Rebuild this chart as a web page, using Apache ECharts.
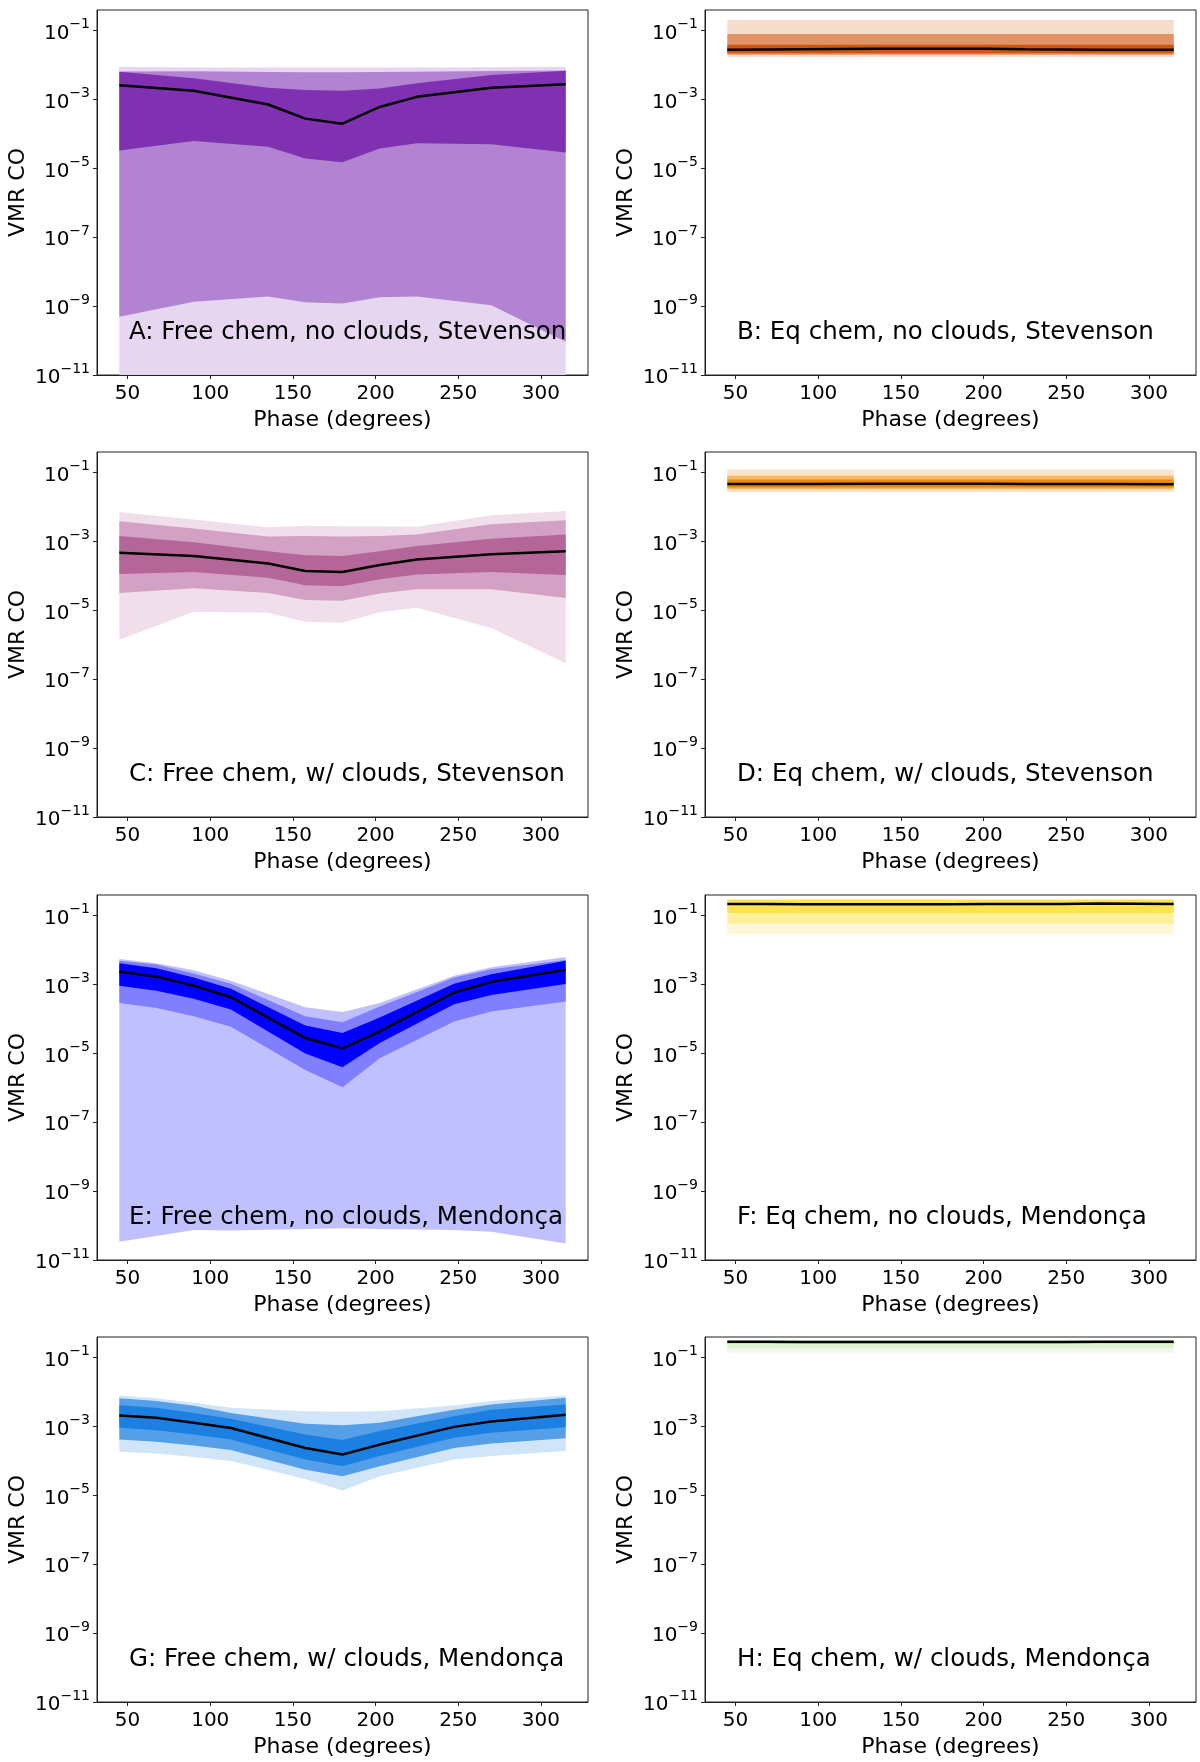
<!DOCTYPE html>
<html><head><meta charset="utf-8">
<script src="https://cdn.jsdelivr.net/npm/echarts@6/dist/echarts.min.js"></script>
<style>html,body{margin:0;padding:0;background:#fff}#c{width:1200px;height:1762px}</style>
</head><body><div id="c"></div>
<script>
// ---------- tick values ----------
const xTicks = [50, 100, 150, 200, 250, 300];
const yTicks = [1e-11, 1e-9, 1e-7, 1e-5, 1e-3, 1e-1];

// ---------- phases ----------
const phaseS = [45, 90, 135, 157.5, 180, 202.5, 225, 270, 315];
const phaseM = [45, 67.5, 90, 112.5, 157.5, 180, 202.5, 247.5, 270, 315];

// ---------- A: Free chem, no clouds, Stevenson ----------
const A_med = [2.6e-3, 1.8e-3, 7.2e-4, 2.8e-4, 2.0e-4, 6.1e-4, 1.2e-3, 2.2e-3, 2.8e-3];
const A_lo1 = [3.3e-5, 6.3e-5, 4.3e-5, 1.95e-5, 1.5e-5, 3.8e-5, 5.4e-5, 5.0e-5, 2.9e-5];
const A_hi1 = [6.4e-3, 4.2e-3, 2.2e-3, 1.9e-3, 1.8e-3, 2.1e-3, 3.0e-3, 5.2e-3, 6.9e-3];
const A_lo2 = [4.9e-10, 1.35e-9, 1.9e-9, 1.3e-9, 1.2e-9, 1.8e-9, 1.9e-9, 1.07e-9, 9.3e-11];
const A_hi2 = [6.5e-3, 6.6e-3, 6.3e-3, 6.2e-3, 6.2e-3, 6.3e-3, 6.4e-3, 6.8e-3, 7.0e-3];
const A_lo3 = [1e-11, 1e-11, 1e-11, 1e-11, 1e-11, 1e-11, 1e-11, 1e-11, 1e-11];
const A_hi3 = [9.0e-3, 8.6e-3, 8.5e-3, 8.5e-3, 8.5e-3, 8.5e-3, 8.5e-3, 8.7e-3, 9.0e-3];

// ---------- B: Eq chem, no clouds, Stevenson ----------
const B_med = [0.028, 0.029, 0.030, 0.030, 0.030, 0.030, 0.029, 0.028, 0.028];
const B_lo1 = [0.022, 0.022, 0.022, 0.022, 0.022, 0.022, 0.022, 0.022, 0.022];
const B_hi1 = [0.039, 0.039, 0.039, 0.039, 0.039, 0.039, 0.039, 0.039, 0.039];
const B_lo2 = [0.020, 0.020, 0.020, 0.020, 0.020, 0.020, 0.020, 0.020, 0.020];
const B_hi2 = [0.080, 0.080, 0.080, 0.080, 0.080, 0.080, 0.080, 0.080, 0.080];
const B_lo3 = [0.017, 0.017, 0.017, 0.017, 0.017, 0.017, 0.017, 0.017, 0.017];
const B_hi3 = [0.21, 0.21, 0.21, 0.21, 0.21, 0.21, 0.21, 0.21, 0.21];

// ---------- C: Free chem, w/ clouds, Stevenson ----------
const C_med = [4.7e-4, 3.8e-4, 2.3e-4, 1.4e-4, 1.3e-4, 2.1e-4, 3.0e-4, 4.3e-4, 5.2e-4];
const C_lo1 = [1.15e-4, 1.3e-4, 8.9e-5, 5.4e-5, 5.0e-5, 8.0e-5, 1.1e-4, 1.3e-4, 1.07e-4];
const C_hi1 = [1.45e-3, 9.6e-4, 5.2e-4, 4.0e-4, 3.8e-4, 5.2e-4, 7.4e-4, 1.2e-3, 1.6e-3];
const C_lo2 = [3.2e-5, 4.4e-5, 3.2e-5, 2.0e-5, 1.9e-5, 3.1e-5, 4.1e-5, 4.1e-5, 2.3e-5];
const C_hi2 = [3.9e-3, 2.4e-3, 1.4e-3, 1.45e-3, 1.4e-3, 1.45e-3, 1.6e-3, 3.2e-3, 4.2e-3];
const C_lo3 = [1.4e-6, 9.1e-6, 8.5e-6, 4.7e-6, 4.4e-6, 8.9e-6, 1.2e-5, 3.1e-6, 2.9e-7];
const C_hi3 = [7.2e-3, 4.4e-3, 2.6e-3, 2.9e-3, 2.8e-3, 2.8e-3, 2.7e-3, 5.8e-3, 7.7e-3];

// ---------- D: Eq chem, w/ clouds, Stevenson ----------
const D_med = [0.047, 0.047, 0.048, 0.048, 0.048, 0.048, 0.047, 0.047, 0.046];
const D_lo1 = [0.037, 0.037, 0.037, 0.037, 0.037, 0.037, 0.037, 0.037, 0.037];
const D_hi1 = [0.064, 0.064, 0.064, 0.064, 0.064, 0.064, 0.064, 0.064, 0.064];
const D_lo2 = [0.033, 0.033, 0.033, 0.033, 0.033, 0.033, 0.033, 0.033, 0.033];
const D_hi2 = [0.082, 0.082, 0.082, 0.082, 0.082, 0.082, 0.082, 0.082, 0.082];
const D_lo3 = [0.0275, 0.0275, 0.0275, 0.0275, 0.0275, 0.0275, 0.0275, 0.0275, 0.0275];
const D_hi3 = [0.125, 0.125, 0.125, 0.125, 0.125, 0.125, 0.125, 0.125, 0.125];

// ---------- E: Free chem, no clouds, Mendonça ----------
const E_med = [2.4e-3, 1.7e-3, 9.3e-4, 4.3e-4, 2.8e-5, 1.4e-5, 4.4e-5, 5.9e-4, 1.2e-3, 2.7e-3];
const E_lo1 = [9.3e-4, 6.6e-4, 3.9e-4, 1.9e-4, 1.0e-5, 4.0e-6, 2.0e-5, 2.7e-4, 5.0e-4, 1.04e-3];
const E_hi1 = [4.2e-3, 3.0e-3, 1.6e-3, 7.6e-4, 6.5e-5, 3.9e-5, 1.1e-4, 1.05e-3, 2.0e-3, 4.9e-3];
const E_lo2 = [2.9e-4, 2.1e-4, 1.2e-4, 6.0e-5, 3.3e-6, 1.05e-6, 7.2e-6, 8.5e-5, 1.66e-4, 3.2e-4];
const E_hi2 = [4.9e-3, 3.8e-3, 2.1e-3, 1.05e-3, 1.2e-4, 8.1e-5, 2.3e-4, 1.6e-3, 2.8e-3, 5.2e-3];
const E_lo3 = [3.4e-11, 5.0e-11, 7.4e-11, 7.2e-11, 8.0e-11, 8.3e-11, 7.9e-11, 7.4e-11, 6.6e-11, 3.0e-11];
const E_hi3 = [5.5e-3, 4.2e-3, 2.6e-3, 1.3e-3, 2.2e-4, 1.6e-4, 2.9e-4, 1.8e-3, 3.2e-3, 6.3e-3];

// ---------- F: Eq chem, no clouds, Mendonça ----------
const F_med = [0.22, 0.22, 0.215, 0.215, 0.215, 0.215, 0.22, 0.22, 0.225, 0.22];
const F_lo1 = [0.12, 0.12, 0.12, 0.12, 0.12, 0.12, 0.12, 0.12, 0.12, 0.12];
const F_hi1 = [0.285, 0.285, 0.285, 0.285, 0.285, 0.285, 0.285, 0.285, 0.285, 0.285];
const F_lo2 = [0.059, 0.059, 0.059, 0.059, 0.059, 0.059, 0.059, 0.059, 0.059, 0.059];
const F_hi2 = [0.30, 0.30, 0.30, 0.30, 0.30, 0.30, 0.30, 0.30, 0.30, 0.30];
const F_lo3 = [0.029, 0.029, 0.029, 0.029, 0.029, 0.029, 0.029, 0.029, 0.029, 0.029];
const F_hi3 = [0.31, 0.31, 0.31, 0.31, 0.31, 0.31, 0.31, 0.31, 0.31, 0.31];

// ---------- G: Free chem, w/ clouds, Mendonça ----------
const G_med = [2.1e-3, 1.8e-3, 1.3e-3, 9.1e-4, 2.4e-4, 1.55e-4, 3.0e-4, 9.8e-4, 1.4e-3, 2.2e-3];
const G_lo1 = [9.3e-4, 7.8e-4, 5.9e-4, 4.2e-4, 1.1e-4, 7.0e-5, 1.4e-4, 4.7e-4, 6.6e-4, 9.6e-4];
const G_hi1 = [4.2e-3, 3.5e-3, 2.5e-3, 1.7e-3, 5.9e-4, 4.1e-4, 7.4e-4, 2.0e-3, 3.1e-3, 4.4e-3];
const G_lo2 = [4.2e-4, 3.6e-4, 2.8e-4, 2.1e-4, 5.6e-5, 3.6e-5, 7.0e-5, 2.4e-4, 3.2e-4, 4.6e-4];
const G_hi2 = [6.6e-3, 5.5e-3, 4.0e-3, 2.5e-3, 1.2e-3, 1.1e-3, 1.3e-3, 3.1e-3, 4.4e-3, 6.9e-3];
const G_lo3 = [1.85e-4, 1.65e-4, 1.3e-4, 1.0e-4, 3.0e-5, 1.4e-5, 3.6e-5, 1.1e-4, 1.4e-4, 1.95e-4];
const G_hi3 = [8.0e-3, 6.6e-3, 4.9e-3, 3.5e-3, 2.8e-3, 2.7e-3, 2.8e-3, 4.1e-3, 5.5e-3, 8.0e-3];

// ---------- H: Eq chem, w/ clouds, Mendonça ----------
const H_med = [0.29, 0.29, 0.285, 0.285, 0.285, 0.285, 0.285, 0.285, 0.29, 0.29];
const H_lo1 = [0.25, 0.25, 0.25, 0.25, 0.25, 0.25, 0.25, 0.25, 0.25, 0.25];
const H_hi1 = [0.31, 0.31, 0.31, 0.31, 0.31, 0.31, 0.31, 0.31, 0.31, 0.31];
const H_lo2 = [0.186, 0.186, 0.186, 0.186, 0.186, 0.186, 0.186, 0.186, 0.186, 0.186];
const H_hi2 = [0.315, 0.315, 0.315, 0.315, 0.315, 0.315, 0.315, 0.315, 0.315, 0.315];
const H_lo3 = [0.14, 0.14, 0.14, 0.14, 0.14, 0.14, 0.14, 0.14, 0.14, 0.14];
const H_hi3 = [0.32, 0.32, 0.32, 0.32, 0.32, 0.32, 0.32, 0.32, 0.32, 0.32];

// ---------- panel labels ----------
const labels = [
  'A: Free chem, no clouds, Stevenson', 'B: Eq chem, no clouds, Stevenson',
  'C: Free chem, w/ clouds, Stevenson', 'D: Eq chem, w/ clouds, Stevenson',
  'E: Free chem, no clouds, Mendonça', 'F: Eq chem, no clouds, Mendonça',
  'G: Free chem, w/ clouds, Mendonça', 'H: Eq chem, w/ clouds, Mendonça'
];

// ---------- styles (outer, middle, inner band colours) ----------
const palettes = [
  ['#e6d6ef', '#b183d1', '#7f31b1'],
  ['#f6dccb', '#e09366', '#d4560c'],
  ['#f0dfea', '#d3a1c3', '#b56698'],
  ['#fbe5c9', '#f6b866', '#f08a08'],
  ['#c0c0ff', '#8080ff', '#0000ff'],
  ['#fff7d8', '#fff09c', '#ffe34e'],
  ['#d1e5f8', '#559fe8', '#1c80e3'],
  ['#effaea', '#dcf4d0', '#bfeaa9']
];

const panels = [
  {phase: phaseS, med: A_med, bands: [[A_lo3, A_hi3], [A_lo2, A_hi2], [A_lo1, A_hi1]]},
  {phase: phaseS, med: B_med, bands: [[B_lo3, B_hi3], [B_lo2, B_hi2], [B_lo1, B_hi1]]},
  {phase: phaseS, med: C_med, bands: [[C_lo3, C_hi3], [C_lo2, C_hi2], [C_lo1, C_hi1]]},
  {phase: phaseS, med: D_med, bands: [[D_lo3, D_hi3], [D_lo2, D_hi2], [D_lo1, D_hi1]]},
  {phase: phaseM, med: E_med, bands: [[E_lo3, E_hi3], [E_lo2, E_hi2], [E_lo1, E_hi1]]},
  {phase: phaseM, med: F_med, bands: [[F_lo3, F_hi3], [F_lo2, F_hi2], [F_lo1, F_hi1]]},
  {phase: phaseM, med: G_med, bands: [[G_lo3, G_hi3], [G_lo2, G_hi2], [G_lo1, G_hi1]]},
  {phase: phaseM, med: H_med, bands: [[H_lo3, H_hi3], [H_lo2, H_hi2], [H_lo1, H_hi1]]}
];

// ---------- layout ----------
const colLeft = [97, 705];
const rowTop = [10, 452, 895, 1337];
const gridW = 491, gridH = 365;
const FONT = '"DejaVu Sans", sans-serif';

const grids = [], xAxes = [], yAxes = [], series = [], graphics = [];

function supLabel(v) {
  const e = Math.round(Math.log10(v));
  return '{b|10}{s|' + (e < 0 ? '\u2212' : '') + Math.abs(e) + '}';
}

function bandRenderer(phase, lo, hi, color) {
  return function (params, api) {
    if (params.dataIndex !== 0) return null;
    const pts = [];
    for (let j = 0; j < phase.length; j++) pts.push(api.coord([phase[j], hi[j]]));
    for (let j = phase.length - 1; j >= 0; j--) pts.push(api.coord([phase[j], lo[j]]));
    return {type: 'polygon', shape: {points: pts}, style: {fill: color}, silent: true};
  };
}

panels.forEach((p, i) => {
  const left = colLeft[i % 2], top = rowTop[Math.floor(i / 2)];
  grids.push({left: left, top: top, width: gridW, height: gridH, show: true,
    borderColor: '#222', borderWidth: 1, backgroundColor: 'transparent', containLabel: false});
  xAxes.push({
    type: 'value', gridIndex: i, min: 31.5, max: 328.5, z: 5,
    axisLine: {show: true, onZero: false, lineStyle: {color: '#222', width: 1}},
    axisTick: {show: true, inside: false, length: 4, customValues: xTicks, lineStyle: {color: '#222'}},
    axisLabel: {customValues: xTicks, fontSize: 20, fontFamily: FONT, color: '#000', margin: 9},
    splitLine: {show: false},
    name: 'Phase (degrees)', nameLocation: 'middle', nameGap: 34,
    nameTextStyle: {fontSize: 22, fontFamily: FONT, color: '#000'}
  });
  yAxes.push({
    type: 'log', logBase: 10, gridIndex: i, min: 1e-11, max: 0.4, z: 5,
    axisLine: {show: true, onZero: false, lineStyle: {color: '#222', width: 1}},
    axisTick: {show: true, inside: false, length: 4, customValues: yTicks, lineStyle: {color: '#222'}},
    axisLabel: {customValues: yTicks, formatter: supLabel, margin: 7,
      rich: {
        b: {fontSize: 20, fontFamily: FONT, color: '#000', lineHeight: 26, verticalAlign: 'bottom'},
        s: {fontSize: 14, fontFamily: FONT, color: '#000', lineHeight: 16, verticalAlign: 'top'}
      }},
    splitLine: {show: false}, minorTick: {show: false},
    name: 'VMR CO', nameLocation: 'middle', nameGap: 68, nameRotate: 90,
    nameTextStyle: {fontSize: 22, fontFamily: FONT, color: '#000'}
  });
  p.bands.forEach((b, k) => {
    const lo = b[0], hi = b[1];
    series.push({
      type: 'custom', xAxisIndex: i, yAxisIndex: i, silent: true, z: 2,
      renderItem: bandRenderer(p.phase, lo, hi, palettes[i][k]),
      encode: {x: 0, y: [1, 2]},
      data: p.phase.map((x, j) => [x, lo[j], hi[j]])
    });
  });
  series.push({
    type: 'line', xAxisIndex: i, yAxisIndex: i, symbol: 'none', silent: true,
    data: p.phase.map((x, j) => [x, p.med[j]]), lineStyle: {color: '#000', width: 2.5}, z: 3
  });
  graphics.push({
    type: 'text', x: left + 32, y: top + gridH - 42, z: 10,
    style: {text: labels[i], font: '24.5px ' + FONT, fill: '#000', verticalAlign: 'middle', align: 'left'}
  });
});

const chart = echarts.init(document.getElementById('c'), null, {renderer: 'canvas'});
chart.setOption({
  animation: false,
  backgroundColor: '#fff',
  grid: grids, xAxis: xAxes, yAxis: yAxes, series: series,
  graphic: {elements: graphics}
});
</script></body></html>
